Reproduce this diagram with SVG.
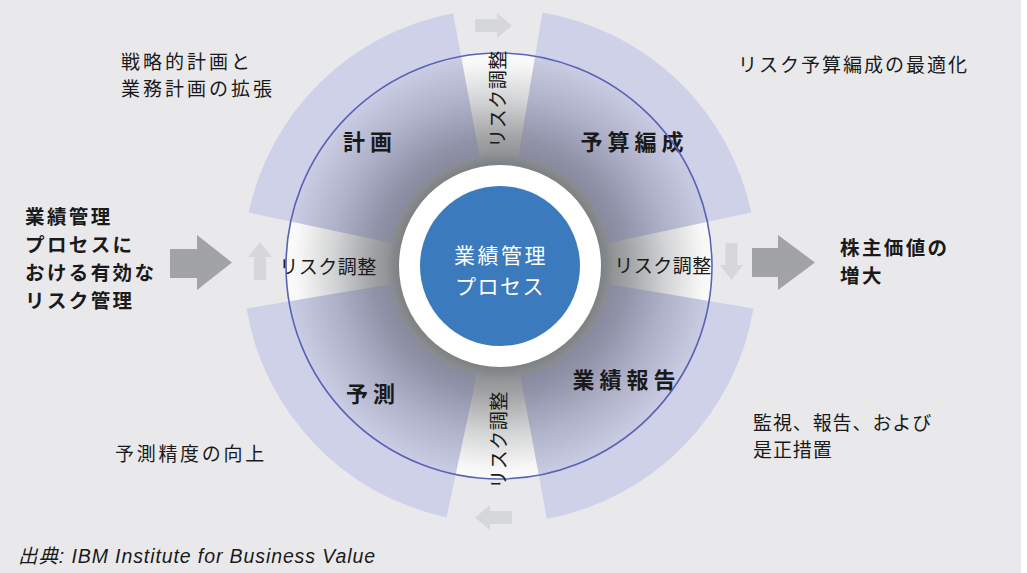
<svg xmlns="http://www.w3.org/2000/svg" width="1027" height="573" viewBox="0 0 1027 573">
  <defs>
    <radialGradient id="gapGrad" gradientUnits="userSpaceOnUse" cx="500" cy="266" r="213">
      <stop offset="0.49" stop-color="#898c8e"/>
      <stop offset="0.6" stop-color="#a0a2a4"/>
      <stop offset="0.78" stop-color="#d2d3d4"/>
      <stop offset="0.95" stop-color="#f7f7f7"/>
      <stop offset="1" stop-color="#fbfbfb"/>
    </radialGradient>
    <radialGradient id="secGrad" gradientUnits="userSpaceOnUse" cx="500" cy="266" r="257">
      <stop offset="0.409" stop-color="#84869b"/>
      <stop offset="0.5" stop-color="#9193a9"/>
      <stop offset="0.66" stop-color="#b0b2ca"/>
      <stop offset="0.82" stop-color="#c9cbe2"/>
      <stop offset="0.835" stop-color="#cfd1e9"/>
      <stop offset="1" stop-color="#cfd1e9"/>
    </radialGradient>
    <radialGradient id="ringGrad" gradientUnits="userSpaceOnUse" cx="500" cy="266" r="114">
      <stop offset="0.88" stop-color="#7d8082"/>
      <stop offset="0.95" stop-color="#888b8d"/>
      <stop offset="1" stop-color="#8f9194" stop-opacity="0"/>
    </radialGradient>
  </defs>
  <style>
    text { font-family: "Noto Sans CJK JP", "Noto Sans CJK SC", sans-serif; fill: #1a1a1a; dominant-baseline: central; }
    .sec { fill: url(#secGrad); }
    .lbl { font-size: 22px; font-weight: bold; letter-spacing: 5px; text-anchor: middle; }
    .adj { font-size: 19px; letter-spacing: 0.5px; text-anchor: middle; }
    .note { font-size: 19px; }
    .bold { font-size: 19.5px; font-weight: bold; letter-spacing: 2.4px; }
    .big { fill: #a2a3a5; }
    .small { fill: #d6d7d9; }
  </style>
  <rect x="0" y="0" width="1027" height="573" fill="#ffffff"/>
  <rect x="0" y="0" width="1021" height="573" fill="#e9e9ec"/>

  <g id="cycle-base">
    <circle cx="500" cy="266" r="213" fill="url(#gapGrad)"/>
  </g>
  <g id="node-plan">
    <path class="sec" d="M 248.62 212.57 A 257 257 0 0 1 453.16 13.30 L 480.86 162.76 A 105 105 0 0 0 397.29 244.17 Z"/>
    <text class="lbl" x="370" y="140">計画</text>
  </g>
  <g id="node-budget">
    <path class="sec" d="M 542.42 12.52 A 257 257 0 0 1 751.38 212.57 L 602.71 244.17 A 105 105 0 0 0 517.33 162.44 Z"/>
    <text class="lbl" x="634.5" y="140">予算編成</text>
  </g>
  <g id="node-report">
    <path class="sec" d="M 753.48 308.42 A 257 257 0 0 1 546.84 518.70 L 519.14 369.24 A 105 105 0 0 0 603.56 283.33 Z"/>
    <text class="lbl" x="626.5" y="377.5">業績報告</text>
  </g>
  <g id="node-forecast">
    <path class="sec" d="M 446.57 517.38 A 257 257 0 0 1 246.52 308.42 L 396.44 283.33 A 105 105 0 0 0 478.17 368.71 Z"/>
    <text class="lbl" x="373" y="392">予測</text>
  </g>
  <g id="cycle-outline">
    <circle cx="499" cy="266" r="213" fill="none" stroke="#5a62b4" stroke-width="1.6"/>
  </g>
  <g id="node-center">
    <circle cx="500" cy="266" r="114" fill="url(#ringGrad)"/>
    <circle cx="500" cy="266" r="101" fill="#ffffff"/>
    <circle cx="500" cy="266" r="80" fill="#3b7bbd"/>
    <text x="501" y="253.5" style="font-size:21px;letter-spacing:2.5px;text-anchor:middle;fill:#ffffff">業績管理</text>
    <text x="500" y="285" style="font-size:21px;letter-spacing:1.5px;text-anchor:middle;fill:#ffffff">プロセス</text>
  </g>

  <g id="adjust-labels">
    <text class="adj" x="328" y="265">リスク調整</text>
    <text class="adj" x="663" y="264.5">リスク調整</text>
    <text class="adj" transform="translate(496,99) rotate(-90)" x="0" y="0">リスク調整</text>
    <text class="adj" transform="translate(497.5,440) rotate(-90)" x="0" y="0">リスク調整</text>
  </g>

  <g id="connectors">
    <path class="big" d="M 170 249 L 197 249 L 197 235 L 232 262.5 L 197 290 L 197 278 L 170 278 Z"/>
    <path class="big" d="M 752 248 L 778 248 L 778 235 L 815 262.5 L 778 290 L 778 277 L 752 277 Z"/>
    <path class="small" d="M 475 19 L 497 19 L 497 13 L 512 25.5 L 497 38 L 497 32 L 475 32 Z"/>
    <path class="small" d="M 512 511 L 490 511 L 490 505 L 475 517.5 L 490 530 L 490 524 L 512 524 Z"/>
    <path class="small" d="M 254 280 L 254 257 L 248 257 L 260 242 L 272 257 L 266 257 L 266 280 Z"/>
    <path class="small" d="M 725.5 243 L 725.5 265 L 720 265 L 731.5 280 L 743 265 L 737.5 265 L 737.5 243 Z"/>
  </g>

  <g id="note-plan">
    <text class="note" x="121" y="60" style="letter-spacing:3px">戦略的計画と</text>
    <text class="note" x="121" y="87" style="letter-spacing:3px">業務計画の拡張</text>
  </g>
  <g id="note-input">
    <text class="bold" x="25" y="215.5">業績管理</text>
    <text class="bold" x="25" y="243.5">プロセスに</text>
    <text class="bold" x="25" y="271.5">おける有効な</text>
    <text class="bold" x="25" y="299.5">リスク管理</text>
  </g>
  <g id="note-budget">
    <text class="note" x="738" y="63.5" style="letter-spacing:2px">リスク予算編成の最適化</text>
  </g>
  <g id="note-output">
    <text class="bold" x="840" y="246.5">株主価値の</text>
    <text class="bold" x="840" y="274.5">増大</text>
  </g>
  <g id="note-report">
    <text class="note" x="753" y="421.5" style="letter-spacing:0.9px">監視、報告、および</text>
    <text class="note" x="753" y="448.5" style="letter-spacing:0.9px">是正措置</text>
  </g>
  <g id="note-forecast">
    <text class="note" x="115" y="452.5" style="letter-spacing:2.7px">予測精度の向上</text>
  </g>
  <g id="source">
    <text x="18" y="563" style="dominant-baseline:auto;font-family:'Liberation Sans','Noto Sans CJK JP',sans-serif;font-style:italic;font-size:19.5px;letter-spacing:0.9px">出典: IBM Institute for Business Value</text>
  </g>
</svg>
